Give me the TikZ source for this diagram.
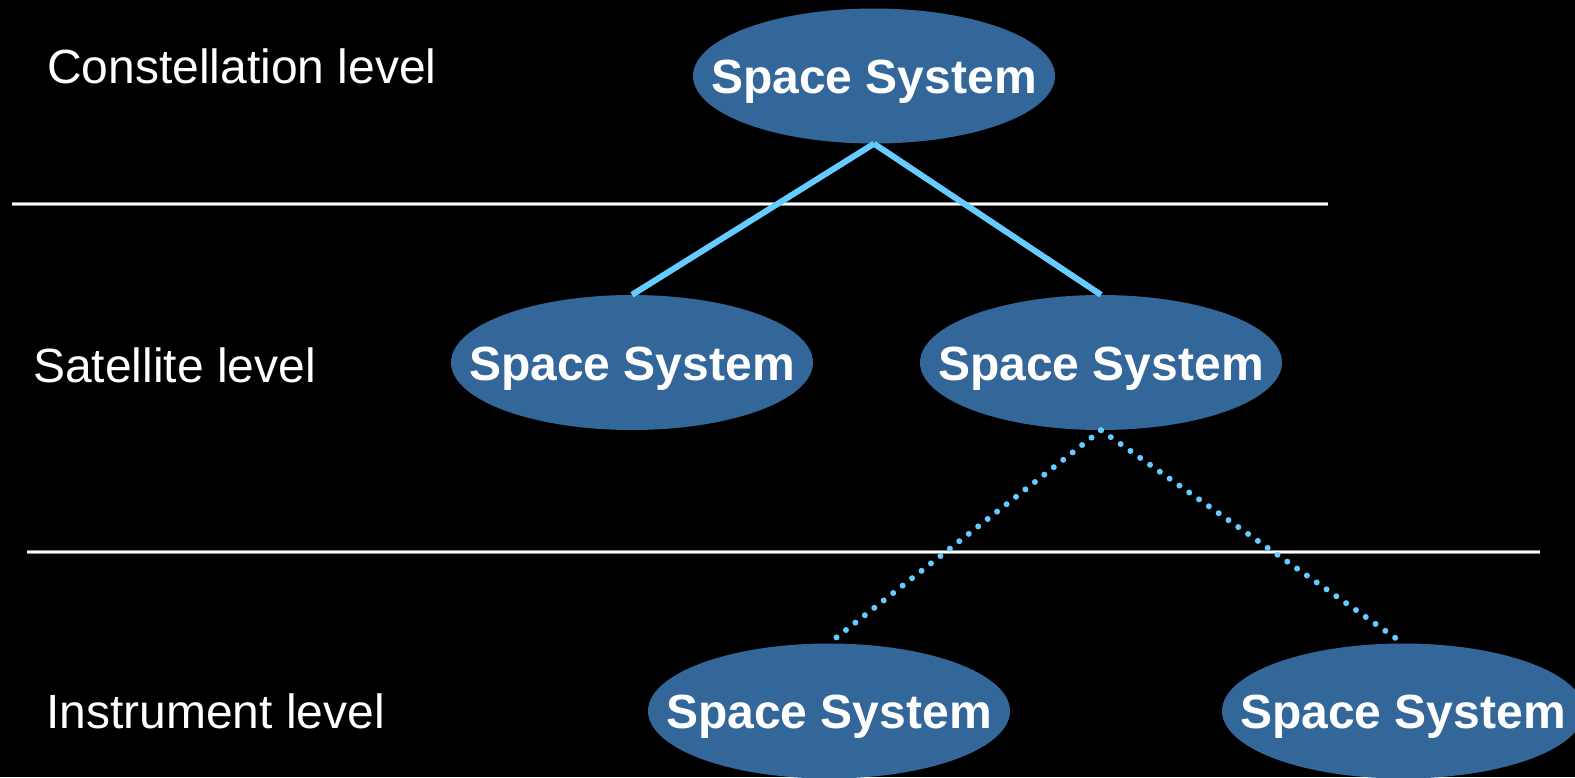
\documentclass[tikz,border=0pt]{standalone}
\usepackage{fontspec}
\setmainfont{Liberation Sans}
\usetikzlibrary{shapes.geometric}
\definecolor{nodeblue}{HTML}{336699}
\definecolor{linkblue}{HTML}{66CCFF}
\definecolor{sepgray}{HTML}{8A8A8A}
\begin{document}
\begin{tikzpicture}[x=1pt,y=-1pt,
  sysshape/.style={ellipse, fill=nodeblue, minimum width=362pt, minimum height=135pt, inner sep=0pt},
  systext/.style={text=white, font=\fontsize{48}{57}\selectfont\bfseries, anchor=base, inner sep=0pt},
  leveltext/.style={text=white, font=\fontsize{48}{57}\selectfont, anchor=base west, inner sep=0pt},
  solidlink/.style={draw=linkblue, line width=6pt},
  dotlink/.style={draw=linkblue, line width=6pt, line cap=round, dash pattern=on 0pt off 12pt},
  sepouter/.style={draw=sepgray, line width=3.5pt},
  sepinner/.style={draw=white, line width=1.6pt}]
\fill[black] (0,0) rectangle (1575,777);
\useasboundingbox (0,0) rectangle (1575,777);

% separator lines
\draw[sepouter] (12,204) -- (1328,204);
\draw[sepinner] (12,204) -- (1328,204);
\draw[sepouter] (27,552) -- (1540,552);
\draw[sepinner] (27,552) -- (1540,552);

% level labels
\node[leveltext] (lvlc) at (47,83) {Constellation level};
\node[leveltext] (lvls) at (33,382) {Satellite level};
\node[leveltext] (lvli) at (46,728) {Instrument level};

% ellipses
\node[sysshape] (top) at (874,76) {};
\node[sysshape] (sat1) at (632,362.5) {};
\node[sysshape] (sat2) at (1101,362.5) {};
\node[sysshape] (ins1) at (829,711) {};
\node[sysshape] (ins2) at (1403,711) {};

% connectors
\draw[solidlink] (top.south) -- (sat1.north);
\draw[solidlink] (top.south) -- (sat2.north);
\draw[dotlink] (sat2.south) -- (ins1.north);
\draw[dotlink] (sat2.south) -- (ins2.north);

% texts
\node[systext] (toptext) at ([yshift=-17.5pt]top.center) {Space System};
\node[systext] (sat1text) at ([yshift=-17.5pt]sat1.center) {Space System};
\node[systext] (sat2text) at ([yshift=-17.5pt]sat2.center) {Space System};
\node[systext] (ins1text) at ([yshift=-17.5pt]ins1.center) {Space System};
\node[systext] (ins2text) at ([yshift=-17.5pt]ins2.center) {Space System};
\end{tikzpicture}
\end{document}
